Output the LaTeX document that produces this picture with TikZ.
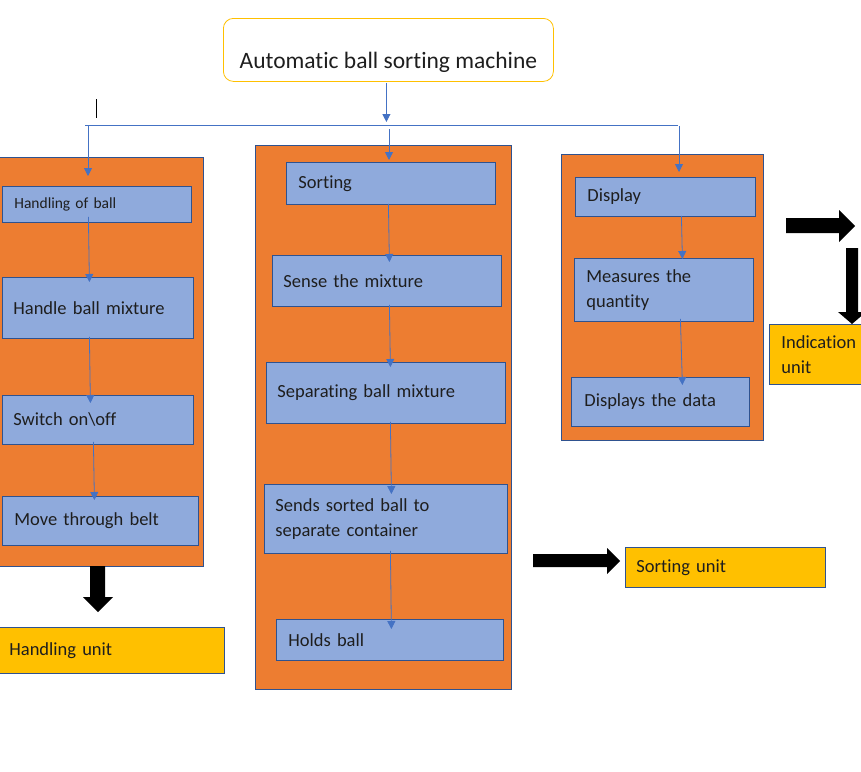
\documentclass[tikz,border=0pt]{standalone}
\usepackage{fontspec}
\setmainfont{Carlito}[Ligatures=NoCommon]
\usetikzlibrary{arrows.meta,calc}
\definecolor{orangep}{HTML}{ED7D31}
\definecolor{blueb}{HTML}{8FAADC}
\definecolor{bord}{HTML}{2F528F}
\definecolor{yel}{HTML}{FFC000}
\definecolor{conc}{HTML}{4472C4}
\definecolor{txt}{HTML}{1E1E1E}
\begin{document}
\begin{tikzpicture}[x=1pt,y=-1pt,
  panel/.style={draw=bord,fill=orangep,line width=0.8pt,anchor=north west,inner sep=0pt},
  bx/.style={draw=bord,fill=blueb,line width=0.8pt,anchor=north west,inner xsep=11pt,inner ysep=0pt,
    align=left,text=txt,font=\fontsize{18.5}{25}\selectfont},
  unitbox/.style={bx,fill=yel},
  conn/.style={draw=conc,line width=0.8pt,-{Triangle[length=8pt,width=8pt]}},
  bus/.style={draw=conc,line width=0.8pt},
  blk/.style={fill=black}]
\useasboundingbox (0,0) rectangle (861,771);
\clip (0,0) rectangle (861,771);

% title
\node[draw=yel,line width=0.8pt,rounded corners=10pt,anchor=north west,minimum width=330pt,
  inner ysep=0pt,text height=50pt,text depth=13pt,font=\fontsize{23.5}{28}\selectfont,text=txt]
  (title) at (223,18) {Automatic ball sorting machine};

% panels
\node[panel,minimum width=208pt,minimum height=409pt] (lp) at (-5,157) {};
\node[panel,minimum width=256pt,minimum height=544pt] (mp) at (255,145) {};
\node[panel,minimum width=202pt,minimum height=286pt] (rp) at (561,154) {};

% left boxes
\node[bx,text width=165pt,minimum height=36pt,font=\fontsize{15.5}{18}\selectfont,inner xsep=12pt] (hob) at (2,186) {Handling of ball};
\node[bx,text width=169pt,minimum height=61pt] (hbm) at (2,277) {Handle ball mixture};
\node[bx,text width=169pt,minimum height=49pt] (sw) at (2,395) {Switch on\textbackslash off};
\node[bx,text width=172pt,minimum height=49pt,inner xsep=12pt] (mtb) at (2,496) {Move through belt};
\node[unitbox,text width=203pt,minimum height=46pt,inner xsep=12pt] (hu) at (-3,627) {Handling unit};

% middle boxes
\node[bx,text width=185pt,minimum height=42pt,inner xsep=12pt] (sort) at (286,162) {Sorting};
\node[bx,text width=207pt,minimum height=51pt] (sense) at (272,255) {Sense the mixture};
\node[bx,text width=217pt,minimum height=61pt] (sep) at (266,362) {Separating ball mixture};
\node[bx,text width=221pt,minimum height=69pt] (sends) at (264,484) {Sends sorted ball to\\separate container};
\node[bx,text width=203pt,minimum height=41pt,inner xsep=12pt] (holds) at (276,619) {Holds ball};
\node[unitbox,text width=178pt,minimum height=40pt] (su) at (625,547) {Sorting unit};

% right boxes
\node[bx,text width=156pt,minimum height=39pt,inner xsep=12pt] (disp) at (575,177) {Display};
\node[bx,text width=155pt,minimum height=63pt,inner xsep=12pt] (meas) at (574,258) {Measures the\\quantity};
\node[bx,text width=152pt,minimum height=49pt,inner xsep=13pt] (dd) at (571,377) {Displays the data};
\node[unitbox,text width=76pt,minimum height=60pt,inner xsep=12pt] (ind) at (769,324) {Indication\\unit};

% bus
\coordinate (busL) at (85,125);
\coordinate (busR) at (678,125);
\coordinate (dL) at (88,125);
\coordinate (dM) at (389,129);
\coordinate (dR) at (679,126);
\draw[bus] (busL) -- (busR);
\draw[conn] ($(title.south)+(-2,1)$) -- ($(title.south |- busL)+(-2,-3)$);
\draw[conn] (dL) -- ($(dL |- hob.north)+(0,-10)$);
\draw[conn] (dM) -- ($(dM |- sort.north)+(0,-2)$);
\draw[conn] (dR) -- ($(dR |- disp.north)+(0,-5)$);
\draw[black,line width=1pt] (96,99) -- (96,118);

% left chain
\draw[conn] ($(hob.south)+(-8.5,-6)$) -- ($(hbm.north)+(-8.5,5)$);
\draw[conn] ($(hbm.south)+(-8.5,-2)$) -- ($(sw.north)+(-7.5,8)$);
\draw[conn] ($(sw.south)+(-4.5,-3)$) -- ($(mtb.north)+(-6,4)$);

% middle chain
\draw[conn] ($(sort.south)+(-2.5,-1)$) -- ($(sense.north)+(2.5,7)$);
\draw[conn] ($(sense.south)+(2.5,-2)$) -- ($(sep.north)+(4.5,5)$);
\draw[conn] ($(sep.south)+(4.5,-2)$) -- ($(sends.north)+(5.5,10)$);
\draw[conn] ($(sends.south)+(4.5,-3)$) -- ($(holds.north)+(1.5,10)$);

% right chain
\draw[conn] ($(disp.south)+(16,-1)$) -- ($(meas.north)+(18.5,1)$);
\draw[conn] ($(meas.south)+(16.5,-3)$) -- ($(dd.north)+(22,8)$);

% block arrows
\fill[blk] (90,566) -- (105,566) -- (105,597) -- (113,597) -- (98,612) -- (83,597) -- (90,597) -- cycle;
\fill[blk] (533,554) -- (607,554) -- (607,548) -- (620,561) -- (607,574) -- (607,567) -- (533,567) -- cycle;
\fill[blk] (786,218) -- (839,218) -- (839,210) -- (855,226) -- (839,242) -- (839,233) -- (786,233) -- cycle;
\fill[blk] (846,248) -- (858,248) -- (858,312) -- (866,312) -- (852,324) -- (838,312) -- (846,312) -- cycle;
\end{tikzpicture}
\end{document}
